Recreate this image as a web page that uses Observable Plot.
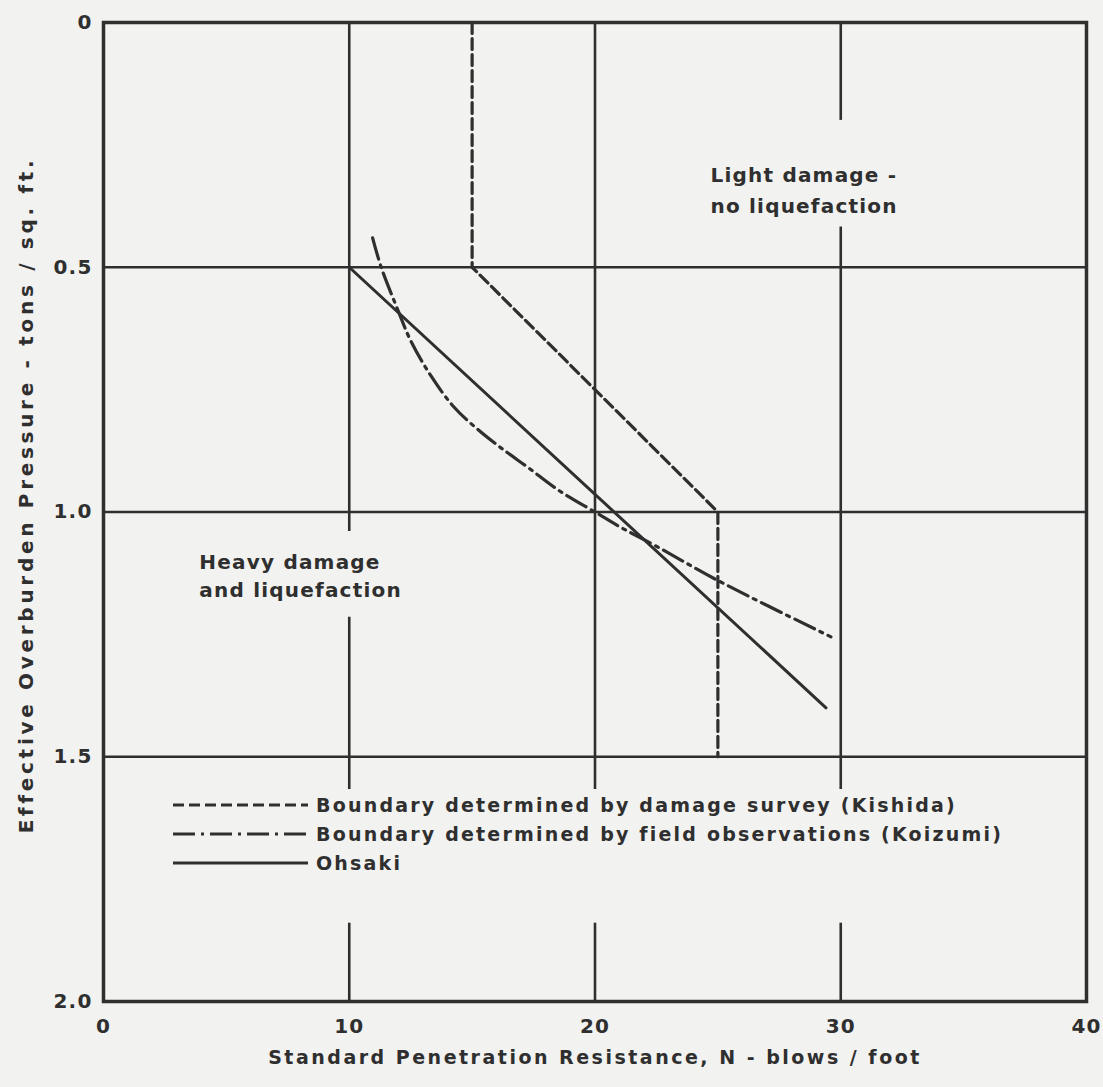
<!DOCTYPE html>
<html><head><meta charset="utf-8">
<script src="https://cdn.jsdelivr.net/npm/d3@7"></script>
<script src="https://cdn.jsdelivr.net/npm/@observablehq/plot@0.6"></script>
<style>
body{margin:0;background:#f2f2f0;}
#chart{position:relative;width:1103px;height:1087px;}
</style></head><body><div id="chart"></div>
<script>
// ---- data ----
const xTicks = [0, 10, 20, 30, 40];
const yTicks = [0, 0.5, 1.0, 1.5, 2.0];
const yTickLabels = ["0", "0.5", "1.0", "1.5", "2.0"];

const kishidaN = [15, 15, 25, 25];
const kishidaP = [0, 0.5, 1.0, 1.5];

const koizumiN = [10.95, 11.3, 12.0, 12.5, 13.3, 14.25, 15.2, 16.2, 17.3, 18.5, 20.0, 21.0, 22.5, 25.0, 29.6];
const koizumiP = [0.44, 0.50, 0.59, 0.65, 0.72, 0.785, 0.83, 0.87, 0.91, 0.955, 1.0, 1.03, 1.07, 1.14, 1.255];

const ohsakiN = [10, 29.4];
const ohsakiP = [0.5, 1.4];

const hGrid = [0.5, 1.0, 1.5];
// vertical grid segments (gaps around the annotations and the legend)
const vGridX  = [10, 10, 10, 20, 20, 30, 30, 30];
const vGridY1 = [0, 1.215, 1.84, 0, 1.84, 0, 0.418, 1.84];
const vGridY2 = [1.04, 1.567, 2, 1.567, 2, 0.2, 1.567, 2];

const xTitle = "Standard Penetration Resistance, N - blows / foot";
const yTitle = "Effective Overburden Pressure - tons / sq. ft.";
const lightLabel = "Light damage -\nno liquefaction";
const heavyLabel = "Heavy damage\nand liquefaction";
const legendLabels = [
  "Boundary determined by damage survey (Kishida)",
  "Boundary determined by field observations (Koizumi)",
  "Ohsaki"
];

// ---- build ----
const ink = "#2f2f2f";
const font = "DejaVu Sans";
const dashK = "11,5";
const dashZ = "22,6,3,6";

const toRows = (xs, ys) => xs.map((x, i) => ({x, y: ys[i]}));
const kishida = toRows(kishidaN, kishidaP);
const koizumi = toRows(koizumiN, koizumiP);
const ohsaki = toRows(ohsakiN, ohsakiP);
const vGrid = vGridX.map((x, i) => ({x, y1: vGridY1[i], y2: vGridY2[i]}));

const chart = Plot.plot({
  width: 1103,
  height: 1087,
  marginLeft: 103,
  marginRight: 17,
  marginTop: 22,
  marginBottom: 86,
  style: {fontFamily: font, fontSize: "20px", fontWeight: "bold", color: ink, background: "transparent"},
  x: {domain: [0, 40]},
  y: {domain: [0, 2], reverse: true},
  marks: [
    Plot.ruleY(hGrid, {stroke: ink, strokeWidth: 2.6}),
    Plot.ruleX(vGrid, {x: "x", y1: "y1", y2: "y2", stroke: ink, strokeWidth: 2.6}),
    Plot.line(kishida, {x: "x", y: "y", stroke: ink, strokeWidth: 3.2, strokeDasharray: dashK}),
    Plot.line(koizumi, {x: "x", y: "y", stroke: ink, strokeWidth: 3.2, strokeDasharray: dashZ, curve: "catmull-rom"}),
    Plot.line(ohsaki, {x: "x", y: "y", stroke: ink, strokeWidth: 3}),
    Plot.frame({stroke: ink, strokeWidth: 3.5}),
    Plot.axisX({ticks: xTicks, tickSize: 0, tickPadding: 17, label: null, fill: ink}),
    Plot.axisY({ticks: yTicks, tickSize: 0, tickPadding: 11, label: null, fill: ink,
      tickFormat: d => yTickLabels[yTicks.indexOf(d)]}),
    Plot.text([lightLabel], {x: 24.7, y: 0.337, textAnchor: "start", lineHeight: 1.55, fill: ink, fontSize: 20}),
    Plot.text([heavyLabel], {x: 3.9, y: 1.127, textAnchor: "start", lineHeight: 1.4, fill: ink, fontSize: 20}),
    Plot.text([xTitle], {frameAnchor: "bottom", dy: 62, fill: ink, fontSize: 19, className: "xt"}),
    Plot.text([yTitle], {frameAnchor: "left", textAnchor: "middle", dx: -77, dy: -17, rotate: -90, fill: ink, fontSize: 20, className: "yt"})
  ]
});
document.getElementById("chart").appendChild(chart);

const svg = d3.select(chart);
svg.selectAll("text").style("letter-spacing", "1.2px");
svg.selectAll(".xt text").style("letter-spacing", "2.5px");
svg.selectAll(".yt text").style("letter-spacing", "3.7px");

// legend inside the frame
const lg = svg.append("g").attr("font-family", font).attr("font-weight", "bold")
  .attr("font-size", 19).attr("fill", ink).attr("text-anchor", "start");
const dashes = [dashK, dashZ, null];
const rowY = [805, 834, 863];
legendLabels.forEach((t, i) => {
  lg.append("line").attr("x1", 173).attr("x2", 308).attr("y1", rowY[i]).attr("y2", rowY[i])
    .attr("stroke", ink).attr("stroke-width", 3).attr("stroke-dasharray", dashes[i]);
  lg.append("text").attr("x", 316).attr("y", rowY[i]).attr("dy", "0.35em")
    .style("letter-spacing", "2.2px").text(t);
});
</script></body></html>
